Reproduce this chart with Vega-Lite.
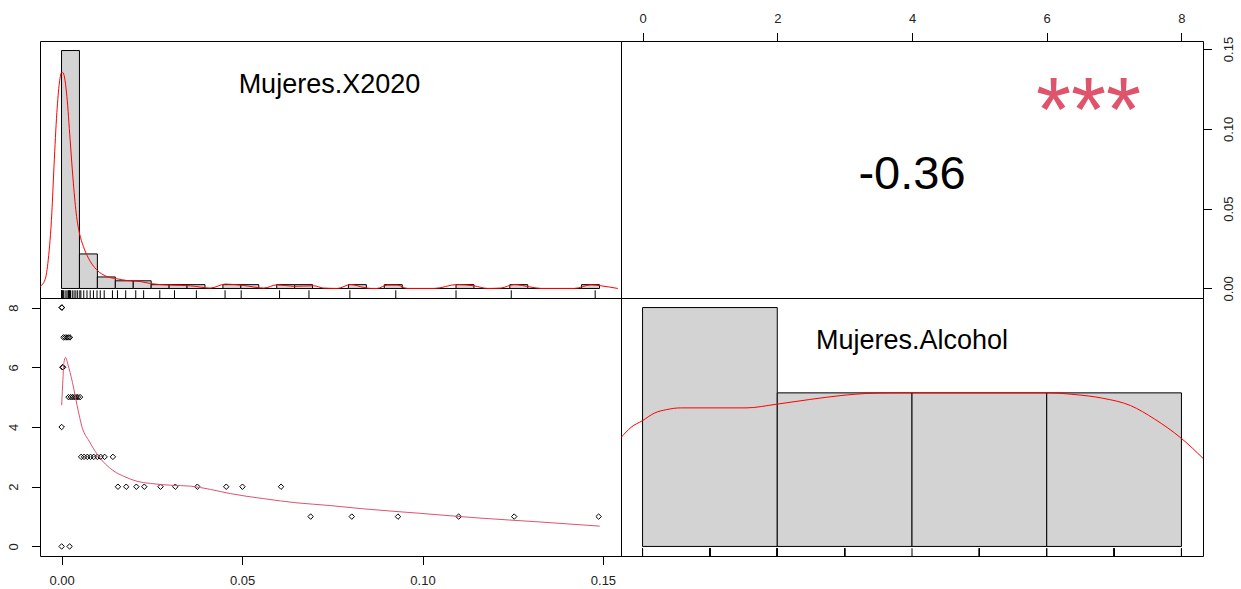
{
  "$schema": "https://vega.github.io/schema/vega-lite/v6.json",
  "background": "white",
  "padding": {"left": 6, "top": 12, "right": 4, "bottom": 4},
  "columns": 2,
  "spacing": 0,
  "bounds": "flush",
  "config": {
    "view": {"stroke": "#000", "strokeWidth": 1},
    "axis": {"labelFont": "Liberation Sans", "labelFontSize": 13, "labelColor": "#222", "tickColor": "#000", "tickSize": 8.5, "tickWidth": 1, "domain": false, "grid": false, "title": null},
    "text": {"font": "Liberation Sans"}
  },
  "datasets": {
    "points": [
      {"X2020": 0.0000, "Alcohol": 8}, {"X2020": 0.0001, "Alcohol": 8},
      {"X2020": 0.0005, "Alcohol": 7}, {"X2020": 0.0010, "Alcohol": 7}, {"X2020": 0.0015, "Alcohol": 7}, {"X2020": 0.0019, "Alcohol": 7}, {"X2020": 0.0023, "Alcohol": 7},
      {"X2020": 0.0002, "Alcohol": 6}, {"X2020": 0.0004, "Alcohol": 6},
      {"X2020": 0.0019, "Alcohol": 5}, {"X2020": 0.0025, "Alcohol": 5}, {"X2020": 0.0030, "Alcohol": 5}, {"X2020": 0.0035, "Alcohol": 5}, {"X2020": 0.0040, "Alcohol": 5}, {"X2020": 0.0045, "Alcohol": 5}, {"X2020": 0.0051, "Alcohol": 5},
      {"X2020": 0.0000, "Alcohol": 4},
      {"X2020": 0.0054, "Alcohol": 3}, {"X2020": 0.0062, "Alcohol": 3}, {"X2020": 0.0071, "Alcohol": 3}, {"X2020": 0.0080, "Alcohol": 3}, {"X2020": 0.0089, "Alcohol": 3}, {"X2020": 0.0099, "Alcohol": 3}, {"X2020": 0.0108, "Alcohol": 3}, {"X2020": 0.0119, "Alcohol": 3}, {"X2020": 0.0142, "Alcohol": 3},
      {"X2020": 0.0156, "Alcohol": 2}, {"X2020": 0.0179, "Alcohol": 2}, {"X2020": 0.0207, "Alcohol": 2}, {"X2020": 0.0229, "Alcohol": 2}, {"X2020": 0.0274, "Alcohol": 2}, {"X2020": 0.0315, "Alcohol": 2}, {"X2020": 0.0376, "Alcohol": 2}, {"X2020": 0.0456, "Alcohol": 2}, {"X2020": 0.0501, "Alcohol": 2}, {"X2020": 0.0608, "Alcohol": 2},
      {"X2020": 0.0690, "Alcohol": 1}, {"X2020": 0.0804, "Alcohol": 1}, {"X2020": 0.0932, "Alcohol": 1}, {"X2020": 0.1100, "Alcohol": 1}, {"X2020": 0.1254, "Alcohol": 1}, {"X2020": 0.1488, "Alcohol": 1},
      {"X2020": 0.0000, "Alcohol": 0}, {"X2020": 0.0022, "Alcohol": 0}
    ],
    "histX": [
      {"bin_start": 0.000, "bin_end": 0.005, "count": 62},
      {"bin_start": 0.005, "bin_end": 0.010, "count": 9},
      {"bin_start": 0.010, "bin_end": 0.015, "count": 3},
      {"bin_start": 0.015, "bin_end": 0.020, "count": 2},
      {"bin_start": 0.020, "bin_end": 0.025, "count": 2},
      {"bin_start": 0.025, "bin_end": 0.030, "count": 1},
      {"bin_start": 0.030, "bin_end": 0.035, "count": 1},
      {"bin_start": 0.035, "bin_end": 0.040, "count": 1},
      {"bin_start": 0.040, "bin_end": 0.045, "count": 0},
      {"bin_start": 0.045, "bin_end": 0.050, "count": 1},
      {"bin_start": 0.050, "bin_end": 0.055, "count": 1},
      {"bin_start": 0.055, "bin_end": 0.060, "count": 0},
      {"bin_start": 0.060, "bin_end": 0.065, "count": 1},
      {"bin_start": 0.065, "bin_end": 0.070, "count": 1},
      {"bin_start": 0.070, "bin_end": 0.075, "count": 0},
      {"bin_start": 0.075, "bin_end": 0.080, "count": 0},
      {"bin_start": 0.080, "bin_end": 0.085, "count": 1},
      {"bin_start": 0.085, "bin_end": 0.090, "count": 0},
      {"bin_start": 0.090, "bin_end": 0.095, "count": 1},
      {"bin_start": 0.095, "bin_end": 0.100, "count": 0},
      {"bin_start": 0.100, "bin_end": 0.105, "count": 0},
      {"bin_start": 0.105, "bin_end": 0.110, "count": 0},
      {"bin_start": 0.110, "bin_end": 0.115, "count": 1},
      {"bin_start": 0.115, "bin_end": 0.120, "count": 0},
      {"bin_start": 0.120, "bin_end": 0.125, "count": 0},
      {"bin_start": 0.125, "bin_end": 0.130, "count": 1},
      {"bin_start": 0.130, "bin_end": 0.135, "count": 0},
      {"bin_start": 0.135, "bin_end": 0.140, "count": 0},
      {"bin_start": 0.140, "bin_end": 0.145, "count": 0},
      {"bin_start": 0.145, "bin_end": 0.150, "count": 1}
    ],
    "densX": [
      {"x": -0.0060, "d": 0.52}, {"x": -0.0046, "d": 2.27}, {"x": -0.0037, "d": 7.48}, {"x": -0.0027, "d": 19.72},
      {"x": -0.0021, "d": 31.79}, {"x": -0.0013, "d": 45.78}, {"x": -0.0006, "d": 53.52}, {"x": 0.0001, "d": 56.38},
      {"x": 0.0005, "d": 56.12}, {"x": 0.0015, "d": 50.03}, {"x": 0.0024, "d": 38.74}, {"x": 0.0033, "d": 27.46},
      {"x": 0.0042, "d": 18.76}, {"x": 0.0050, "d": 14.43}, {"x": 0.0061, "d": 10.94}, {"x": 0.0075, "d": 7.92},
      {"x": 0.0098, "d": 4.87}, {"x": 0.0126, "d": 3.13}, {"x": 0.0154, "d": 2.53}, {"x": 0.0182, "d": 2.08},
      {"x": 0.0219, "d": 1.82}, {"x": 0.0252, "d": 1.22}, {"x": 0.0303, "d": 0.89}, {"x": 0.0359, "d": 0.70},
      {"x": 0.0415, "d": 0.10}, {"x": 0.0457, "d": 1.15}, {"x": 0.0508, "d": 0.78}, {"x": 0.0564, "d": 0.10},
      {"x": 0.0601, "d": 0.96}, {"x": 0.0647, "d": 0.57}, {"x": 0.0703, "d": 0.70}, {"x": 0.0731, "d": 0.10},
      {"x": 0.0769, "d": 0.0}, {"x": 0.0806, "d": 1.04}, {"x": 0.0843, "d": 0.26}, {"x": 0.0862, "d": 0.0},
      {"x": 0.0880, "d": 0.0}, {"x": 0.0908, "d": 0.89}, {"x": 0.0936, "d": 0.89}, {"x": 0.0964, "d": 0.0},
      {"x": 0.1039, "d": 0.0}, {"x": 0.1104, "d": 1.04}, {"x": 0.1150, "d": 0.70}, {"x": 0.1188, "d": 0.0},
      {"x": 0.1225, "d": 0.10}, {"x": 0.1262, "d": 1.04}, {"x": 0.1309, "d": 0.36}, {"x": 0.1337, "d": 0.0},
      {"x": 0.1430, "d": 0.0}, {"x": 0.1476, "d": 0.96}, {"x": 0.1504, "d": 0.70}, {"x": 0.1551, "d": 0.0}
    ],
    "histA": [
      {"bin_start": 0, "bin_end": 2, "count": 28},
      {"bin_start": 2, "bin_end": 4, "count": 18},
      {"bin_start": 4, "bin_end": 6, "count": 18},
      {"bin_start": 6, "bin_end": 8, "count": 18}
    ],
    "densA": [
      {"x": -0.318, "d": 12.78}, {"x": -0.171, "d": 13.96}, {"x": 0.0, "d": 14.75}, {"x": 0.182, "d": 15.65},
      {"x": 0.359, "d": 16.04}, {"x": 0.565, "d": 16.24}, {"x": 1.536, "d": 16.24}, {"x": 1.989, "d": 16.67},
      {"x": 2.478, "d": 17.22}, {"x": 2.949, "d": 17.69}, {"x": 3.302, "d": 17.92}, {"x": 3.714, "d": 18.0},
      {"x": 6.004, "d": 18.0}, {"x": 6.421, "d": 17.8}, {"x": 6.833, "d": 17.37}, {"x": 7.245, "d": 16.51},
      {"x": 7.599, "d": 14.94}, {"x": 7.999, "d": 12.67}, {"x": 8.323, "d": 10.31}
    ],
    "smooth": [
      {"x": 0.0000, "y": 4.73}, {"x": 0.00036, "y": 5.60}, {"x": 0.00064, "y": 6.16}, {"x": 0.0011, "y": 6.33},
      {"x": 0.0017, "y": 6.11}, {"x": 0.0030, "y": 5.49}, {"x": 0.0043, "y": 4.71}, {"x": 0.0057, "y": 3.98},
      {"x": 0.0076, "y": 3.53}, {"x": 0.0099, "y": 3.08}, {"x": 0.0122, "y": 2.75}, {"x": 0.0145, "y": 2.52},
      {"x": 0.0172, "y": 2.35}, {"x": 0.0209, "y": 2.18}, {"x": 0.0246, "y": 2.11}, {"x": 0.0302, "y": 2.05},
      {"x": 0.0357, "y": 2.02}, {"x": 0.0412, "y": 1.91}, {"x": 0.0467, "y": 1.77}, {"x": 0.0560, "y": 1.60},
      {"x": 0.0652, "y": 1.46}, {"x": 0.0744, "y": 1.37}, {"x": 0.0827, "y": 1.27}, {"x": 0.0993, "y": 1.11},
      {"x": 0.1159, "y": 0.95}, {"x": 0.1325, "y": 0.82}, {"x": 0.1491, "y": 0.68}
    ]
  },
  "concat": [
    {
      "width": 581,
      "height": 257,
      "layer": [
        {
          "data": {"name": "histX"},
          "mark": {"type": "rect", "fill": "#D3D3D3", "stroke": "#000", "strokeWidth": 1},
          "encoding": {
            "x": {"field": "bin_start", "type": "quantitative", "scale": {"domain": [-0.006, 0.156], "nice": false, "zero": false}, "axis": null},
            "x2": {"field": "bin_end"},
            "y": {"field": "count", "type": "quantitative", "scale": {"domain": [-2.48, 64.48], "nice": false, "zero": false}, "axis": null},
            "y2": {"datum": 0}
          }
        },
        {
          "data": {"name": "densX"},
          "mark": {"type": "line", "color": "#FF0000", "strokeWidth": 1, "clip": true, "interpolate": "monotone"},
          "encoding": {
            "x": {"field": "x", "type": "quantitative"},
            "y": {"field": "d", "type": "quantitative"}
          }
        },
        {
          "data": {"name": "points"},
          "mark": {"type": "rule", "color": "#000", "strokeWidth": 1},
          "encoding": {
            "x": {"field": "X2020", "type": "quantitative"},
            "y": {"datum": -2.48},
            "y2": {"datum": -0.47}
          }
        },
        {
          "data": {"values": [{"name": "Mujeres.X2020"}]},
          "mark": {"type": "text", "fontSize": 27, "align": "center", "baseline": "alphabetic", "color": "#000"},
          "encoding": {
            "text": {"field": "name"},
            "x": {"datum": 0.0747},
            "y": {"datum": 51.0}
          }
        }
      ]
    },
    {
      "width": 582,
      "height": 257,
      "layer": [
        {
          "data": {"values": [{"r": "-0.36"}]},
          "mark": {"type": "text", "fontSize": 47, "align": "center", "baseline": "alphabetic", "color": "#000"},
          "encoding": {
            "text": {"field": "r"},
            "x": {"datum": 4, "type": "quantitative", "scale": {"domain": [-0.32, 8.32], "nice": false, "zero": false},
                  "axis": {"orient": "top", "values": [0, 2, 4, 6, 8], "format": "d", "labelPadding": 7}},
            "y": {"datum": 0.0624, "type": "quantitative", "scale": {"domain": [-0.006, 0.155], "nice": false, "zero": false},
                  "axis": {"orient": "right", "values": [0, 0.05, 0.1, 0.15], "format": ".2f", "labelAngle": 270, "labelAlign": "center", "labelBaseline": "top", "labelPadding": 10.5}}
          }
        },
        {
          "data": {"values": [{"s": "***"}]},
          "mark": {"type": "text", "fontSize": 90, "align": "center", "baseline": "alphabetic", "color": "#DF536B"},
          "encoding": {
            "text": {"field": "s"},
            "x": {"datum": 6.62},
            "y": {"datum": 0.0922}
          }
        }
      ]
    },
    {
      "width": 581,
      "height": 258,
      "layer": [
        {
          "data": {"name": "points"},
          "mark": {"type": "point", "shape": "diamond", "filled": false, "stroke": "#000", "strokeWidth": 1, "size": 30, "opacity": 1},
          "encoding": {
            "x": {"field": "X2020", "type": "quantitative", "scale": {"domain": [-0.006, 0.155], "nice": false, "zero": false},
                  "axis": {"orient": "bottom", "values": [0, 0.05, 0.1, 0.15], "format": ".2f", "labelPadding": 10}},
            "y": {"field": "Alcohol", "type": "quantitative", "scale": {"domain": [-0.32, 8.32], "nice": false, "zero": false},
                  "axis": {"orient": "left", "values": [0, 2, 4, 6, 8], "format": "d", "labelAngle": 270, "labelAlign": "center", "labelBaseline": "bottom", "labelPadding": 11.5}}
          }
        },
        {
          "data": {"name": "smooth"},
          "mark": {"type": "line", "color": "#DF536B", "strokeWidth": 1, "interpolate": "monotone"},
          "encoding": {
            "x": {"field": "x", "type": "quantitative"},
            "y": {"field": "y", "type": "quantitative"}
          }
        }
      ]
    },
    {
      "width": 582,
      "height": 258,
      "layer": [
        {
          "data": {"name": "histA"},
          "mark": {"type": "rect", "fill": "#D3D3D3", "stroke": "#000", "strokeWidth": 1},
          "encoding": {
            "x": {"field": "bin_start", "type": "quantitative", "scale": {"domain": [-0.32, 8.32], "nice": false, "zero": false}, "axis": null},
            "x2": {"field": "bin_end"},
            "y": {"field": "count", "type": "quantitative", "scale": {"domain": [-1.12, 29.12], "nice": false, "zero": false}, "axis": null},
            "y2": {"datum": 0}
          }
        },
        {
          "data": {"name": "densA"},
          "mark": {"type": "line", "color": "#FF0000", "strokeWidth": 1, "clip": true, "interpolate": "monotone"},
          "encoding": {
            "x": {"field": "x", "type": "quantitative"},
            "y": {"field": "d", "type": "quantitative"}
          }
        },
        {
          "data": {"name": "points"},
          "mark": {"type": "rule", "color": "#000", "strokeWidth": 1},
          "encoding": {
            "x": {"field": "Alcohol", "type": "quantitative"},
            "y": {"datum": -1.12},
            "y2": {"datum": -0.21}
          }
        },
        {
          "data": {"values": [{"name": "Mujeres.Alcohol"}]},
          "mark": {"type": "text", "fontSize": 27, "align": "center", "baseline": "alphabetic", "color": "#000"},
          "encoding": {
            "text": {"field": "name"},
            "x": {"datum": 4.0},
            "y": {"datum": 23.1}
          }
        }
      ]
    }
  ]
}
